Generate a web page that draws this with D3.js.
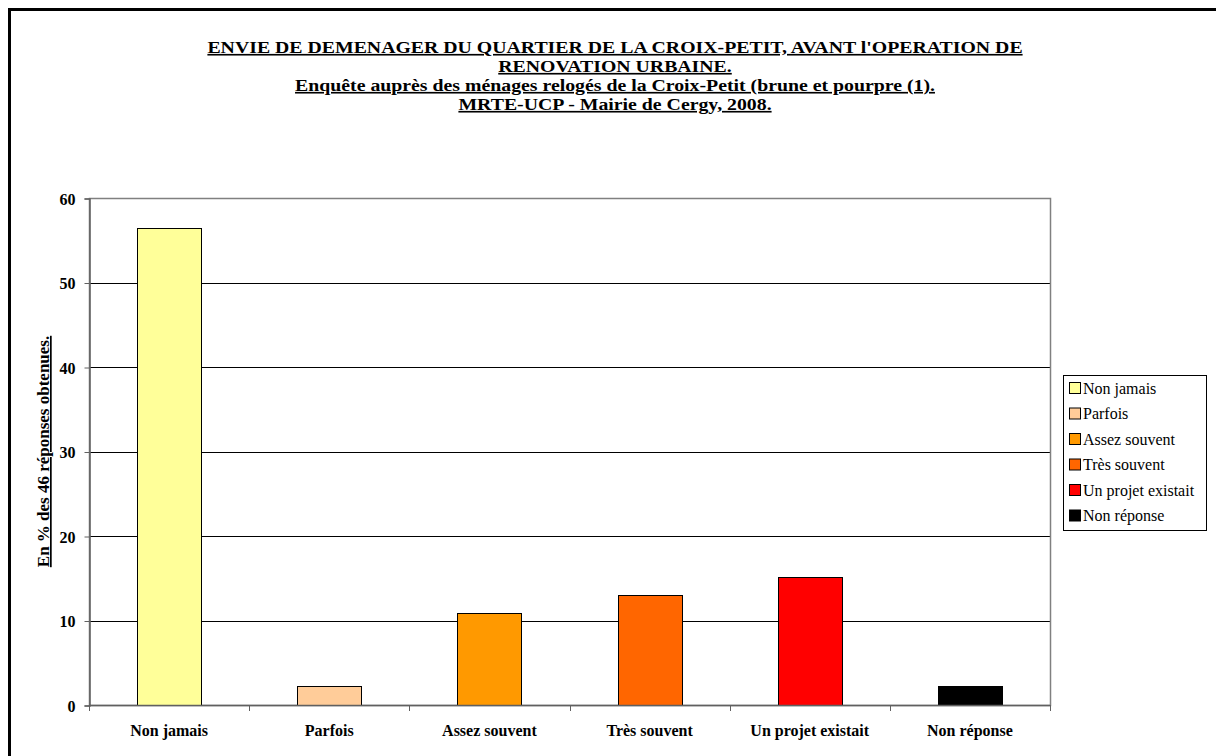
<!DOCTYPE html>
<html>
<head>
<meta charset="utf-8">
<script src="https://cdn.jsdelivr.net/npm/d3@7"></script>
<style>
  body { margin: 0; background: #fff; }
  svg text { font-family: "Liberation Serif", "Times New Roman", Times, serif !important; }
</style>
</head>
<body>
<div class="chart"></div>
<script>
var categories = ['Non jamais', 'Parfois', 'Assez souvent', 'Très souvent', 'Un projet existait', 'Non réponse'],
	values = [56.5, 2.2, 10.9, 13.0, 15.2, 2.2],
	colors = ['#FFFF99', '#FFCC99', '#FF9900', '#FF6600', '#FF0000', '#000000'],
	yTicks = [0, 10, 20, 30, 40, 50, 60];

var titleLines = [
	"ENVIE DE DEMENAGER DU QUARTIER DE LA CROIX-PETIT, AVANT l'OPERATION DE",
	"RENOVATION URBAINE.",
	"Enquête auprès des ménages relogés de la Croix-Petit (brune et pourpre (1).",
	"MRTE-UCP - Mairie de Cergy, 2008."
];

var W = 1216, H = 756;
var plot = { left: 89, right: 1050, top: 198, bottom: 705 };

var svg = d3.select('.chart').append('svg')
			.attr('width', W)
			.attr('height', H)

// outer frame (runs off the right and bottom edges)
svg.append('rect')
	.attr('x', 9.5).attr('y', 9.5)
	.attr('width', W).attr('height', H)
	.attr('fill', 'none')
	.attr('stroke', '#000')
	.attr('stroke-width', 3)

var x = d3.scaleBand()
			.domain(categories)
			.range([plot.left, plot.right])
			.paddingInner(0.6)
			.paddingOuter(0.3)

var band = d3.scaleBand()
			.domain(categories)
			.range([plot.left, plot.right])

var y = d3.scaleLinear()
			.domain([0, 60])
			.range([plot.bottom, plot.top])

// gridlines
svg.selectAll('line.grid')
	.data(yTicks.slice(1, -1))
	.enter().append('line')
	.attr('class', 'grid')
	.attr('x1', plot.left).attr('x2', plot.right)
	.attr('y1', function(d){ return Math.round(y(d)) + 0.5 })
	.attr('y2', function(d){ return Math.round(y(d)) + 0.5 })
	.attr('stroke', '#000')
	.attr('stroke-width', 1)

// plot frame
svg.append('rect')
	.attr('x', plot.left + 0.5).attr('y', plot.top + 0.5)
	.attr('width', plot.right - plot.left).attr('height', plot.bottom - plot.top)
	.attr('fill', 'none')
	.attr('stroke', '#808080')
	.attr('stroke-width', 1.5)

// bars
svg.selectAll('rect.bar')
	.data(values)
	.enter().append('rect')
	.attr('class', 'bar')
	.attr('x', function(d, i){ return Math.round(x(categories[i])) + 0.5 })
	.attr('y', function(d){ return Math.round(y(d)) + 0.5 })
	.attr('width', Math.round(x.bandwidth()))
	.attr('height', function(d){ return Math.round(y(0)) - Math.round(y(d)) })
	.attr('fill', function(d, i){ return colors[i] })
	.attr('stroke', '#000')
	.attr('stroke-width', 1)

// y axis
var yAxis = svg.append('g')
	.attr('transform', 'translate(' + (plot.left + 0.5) + ',0.5)')
	.call(d3.axisLeft(y).tickValues(yTicks).tickSize(5).tickPadding(9))
yAxis.attr('font-family', null).attr('font-size', null)
yAxis.select('.domain').attr('stroke', '#606060').attr('stroke-width', 1.5)
yAxis.selectAll('.tick line').attr('stroke', '#606060')
yAxis.selectAll('.tick text')
	.attr('dy', '0.35em')
	.style('font-size', '16px').style('font-weight', 'bold')

// x axis: ticks at band boundaries
svg.append('line')
	.attr('x1', plot.left).attr('x2', plot.right)
	.attr('y1', plot.bottom + 0.5).attr('y2', plot.bottom + 0.5)
	.attr('stroke', '#606060').attr('stroke-width', 1.5)

svg.selectAll('line.xtick')
	.data(categories.concat(['end']))
	.enter().append('line')
	.attr('class', 'xtick')
	.attr('x1', function(d, i){ return Math.round(plot.left + i * band.bandwidth()) + 0.5 })
	.attr('x2', function(d, i){ return Math.round(plot.left + i * band.bandwidth()) + 0.5 })
	.attr('y1', plot.bottom).attr('y2', plot.bottom + 6)
	.attr('stroke', '#606060')

svg.selectAll('text.xlab')
	.data(categories)
	.enter().append('text')
	.attr('class', 'xlab')
	.attr('x', function(d){ return band(d) + band.bandwidth() / 2 })
	.attr('y', 736)
	.attr('text-anchor', 'middle')
	.style('font-size', '16px').style('font-weight', 'bold')
	.text(function(d){ return d })

// y axis title
svg.append('text')
	.attr('transform', 'translate(49,' + ((plot.top + plot.bottom) / 2) + ') rotate(-90)')
	.attr('text-anchor', 'middle')
	.style('font-size', '17px').style('font-weight', 'bold')
	.style('text-decoration', 'underline')
	.text('En % des 46 réponses obtenues.')

// title: Excel-style narrow tall lettering, stretched to the reference width
var tg = svg.append('g').attr('transform', 'translate(615,0) scale(1.2,1)')
tg.selectAll('text.title')
	.data(titleLines)
	.enter().append('text')
	.attr('class', 'title')
	.attr('x', 0)
	.attr('y', function(d, i){ return 53 + i * 19 })
	.attr('text-anchor', 'middle')
	.style('font-size', '16.5px').style('font-weight', 'bold')
	.style('text-decoration', 'underline')
	.text(function(d){ return d })

// legend
var lg = svg.append('g').attr('transform', 'translate(1063,375)')
lg.append('rect')
	.attr('x', 0.5).attr('y', 0.5)
	.attr('width', 143).attr('height', 155)
	.attr('fill', '#fff')
	.attr('stroke', '#000')
	.attr('stroke-width', 1)

var item = lg.selectAll('g.item')
	.data(categories)
	.enter().append('g')
	.attr('class', 'item')
	.attr('transform', function(d, i){ return 'translate(0,' + (13 + i * 25.5) + ')' })

item.append('rect')
	.attr('x', 6.5).attr('y', -5.5)
	.attr('width', 11).attr('height', 11)
	.attr('fill', function(d, i){ return colors[i] })
	.attr('stroke', '#000')

item.append('text')
	.attr('x', 20)
	.attr('y', 5.5)
	.style('font-size', '16px')
	.text(function(d){ return d })
</script>
</body>
</html>
